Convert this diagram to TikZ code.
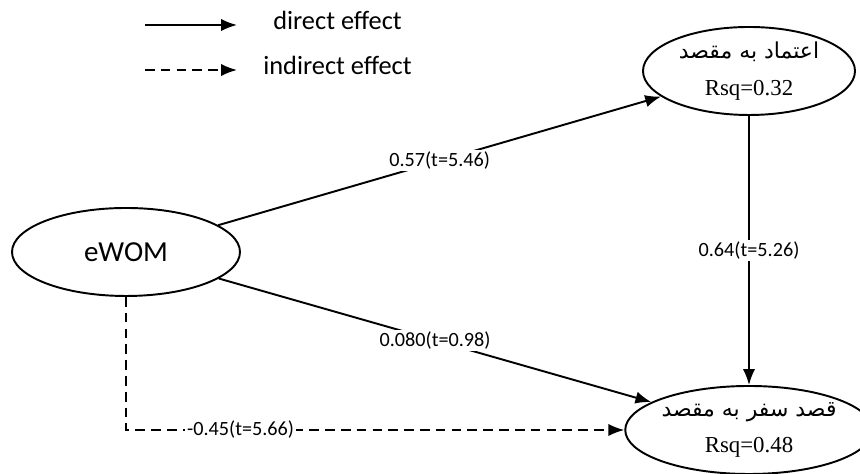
\documentclass[tikz,border=0pt]{standalone}
\usepackage{fontspec}
\setmainfont{Carlito}
\newfontfamily\arabicfont[Script=Arabic]{DejaVu Sans}
\newfontfamily\rsqfont{Liberation Serif}
\TeXXeTstate=1
\usetikzlibrary{positioning,arrows.meta,shapes.geometric}
\tikzset{latent/.style={ellipse,draw,line width=1.1pt,inner sep=0pt,minimum height=1.76cm},
	 outcome/.style={latent,minimum width=4.24cm,align=center,font=\fontsize{13}{21}\selectfont},
	 effect/.style={line width=1.1pt,-{Latex[length=9pt,width=7pt]}},
	 indirect/.style={effect,dash pattern=on 5.5pt off 3.5pt},
	 coef/.style={fill=white,inner sep=1pt,font=\fontsize{11.5}{13}\selectfont},
	 legtext/.style={font=\fontsize{15}{18}\selectfont},
	 node distance = 1
	 }

\begin{document}
\begin{tikzpicture} % eWOM -> trust -> travel intention
	\useasboundingbox (0,0) rectangle (17.2,9.48);
	% legend
	\coordinate (d1) at (2.9,8.98);
	\coordinate (d2) at (4.74,8.98);
	\coordinate (i1) at (2.9,8.08);
	\coordinate (i2) at (4.74,8.08);
	\node[legtext] (dtext) at (6.75,9.08) {direct effect};
	\node[legtext] (itext) at (6.75,8.18) {indirect effect};
	\draw[effect] (d1) -- (d2);
	\draw[indirect] (i1) -- (i2);
	% model
	\node[latent,minimum width=4.56cm] (ewom) at (2.52,4.44) {\fontsize{16.5}{20}\selectfont eWOM};
	\node[outcome] (trust) at (14.98,8.06)
		{{\arabicfont\fontsize{12.5}{21}\selectfont\beginR اعتماد به مقصد\endR}\\ {\rsqfont Rsq=0.32}};
	\node[outcome] (intent) at (14.98,0.88)
		{{\arabicfont\fontsize{12.5}{21}\selectfont\beginR قصد سفر به مقصد\endR}\\ {\rsqfont Rsq=0.48}};
	\draw[effect] (ewom) to node[coef] {0.57(t=5.46)} (trust);
	\draw[effect] (ewom) to node[coef] {0.080(t=0.98)} (intent);
	\draw[effect] (trust) to node[coef] {0.64(t=5.26)} (intent);
	\draw[indirect] (ewom.south) |- node[coef,pos=0.615] {-0.45(t=5.66)} (intent.west);
\end{tikzpicture}
\end{document}
